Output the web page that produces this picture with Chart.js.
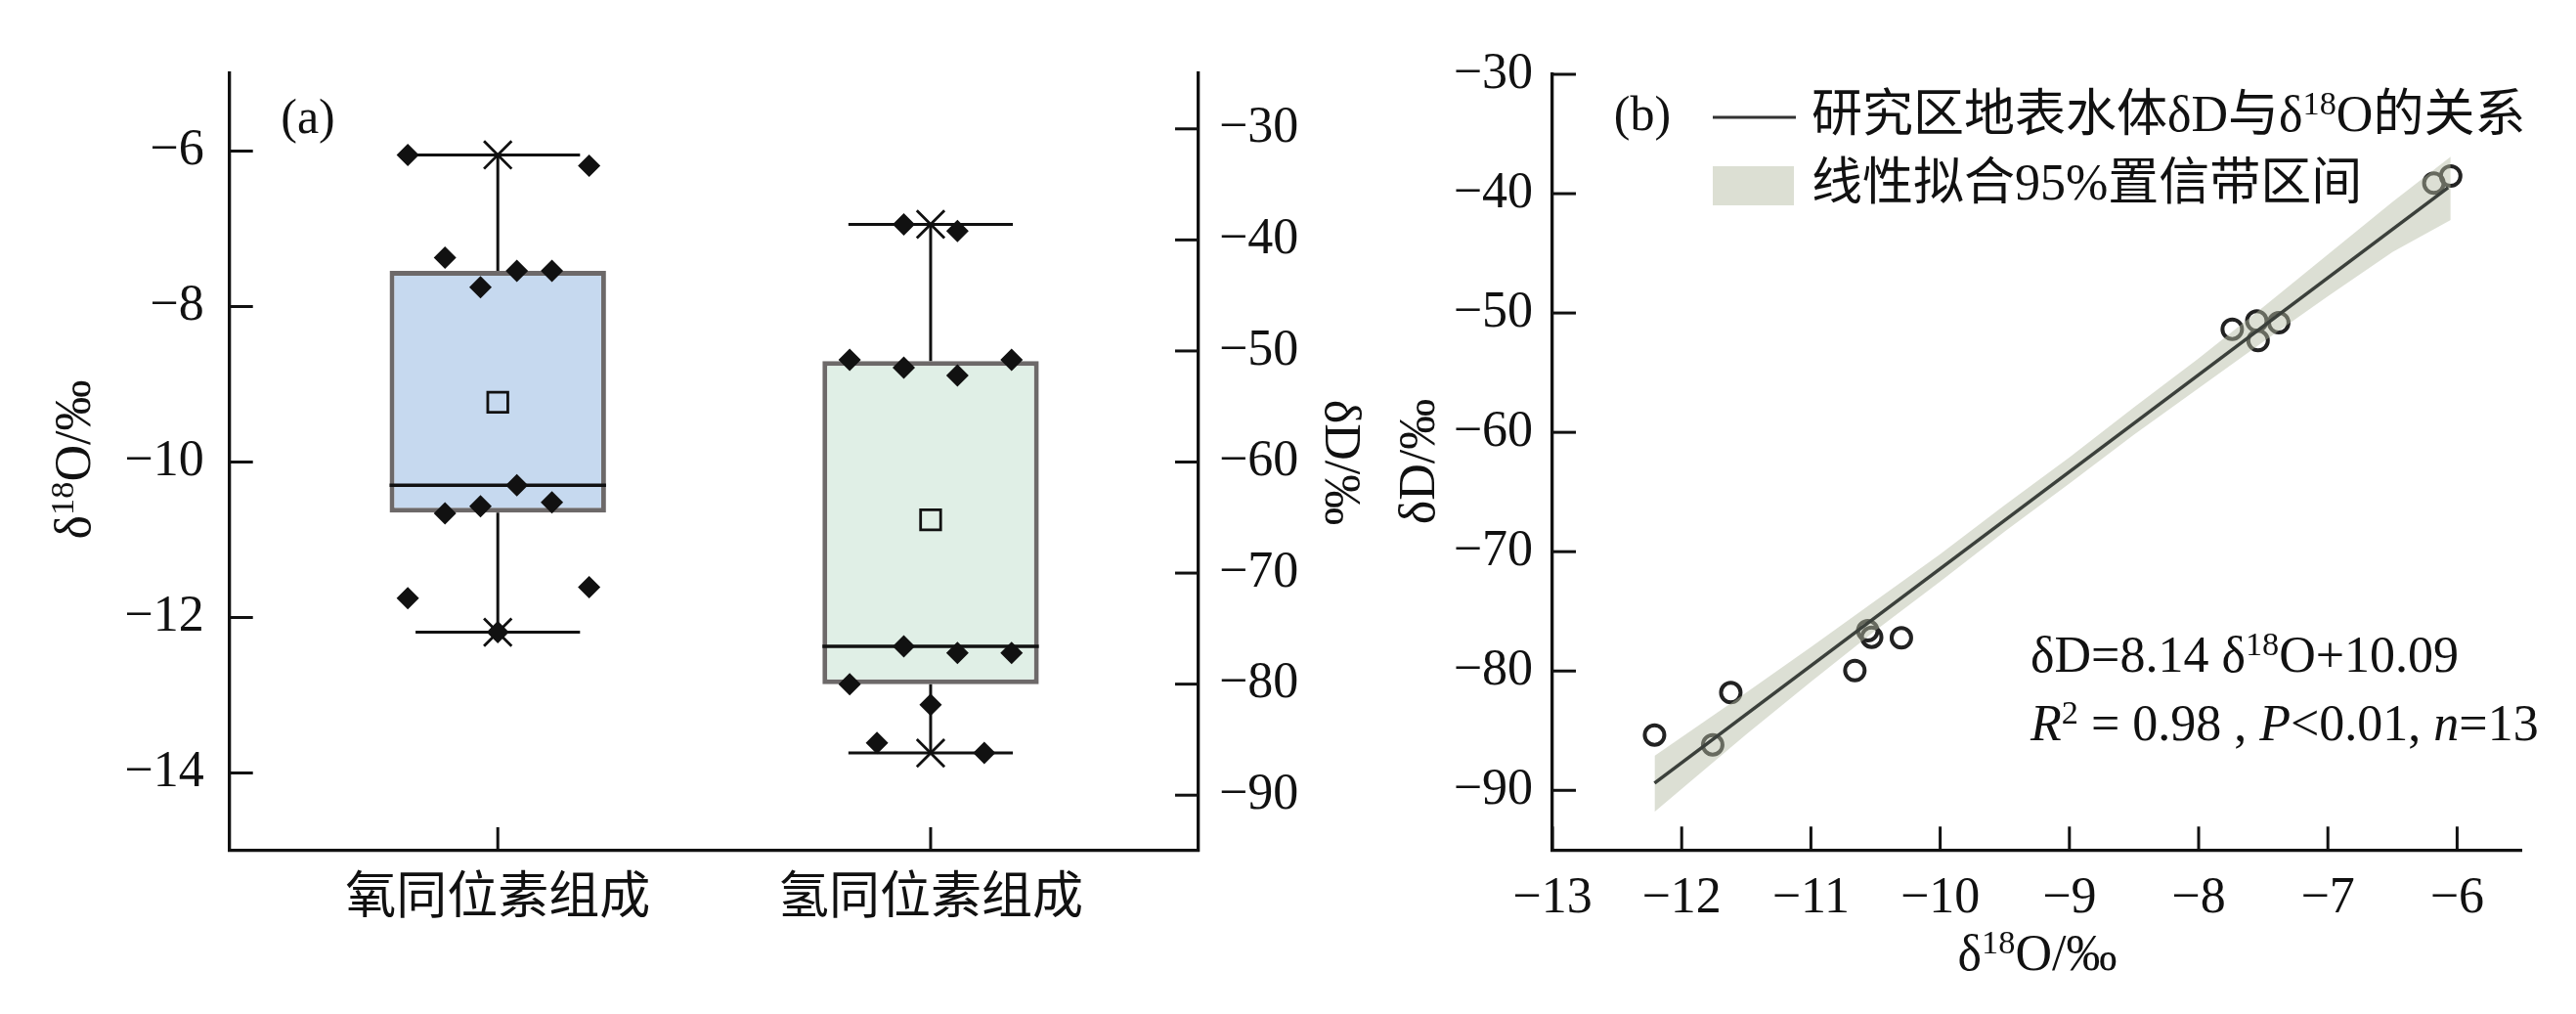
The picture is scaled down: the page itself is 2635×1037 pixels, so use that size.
<!DOCTYPE html>
<html><head><meta charset="utf-8">
<script src="https://cdn.jsdelivr.net/npm/chart.js@4.4.1/dist/chart.umd.min.js"></script>
<style>
html,body{margin:0;padding:0;background:#fff;}
body{width:2635px;height:1037px;position:relative;overflow:hidden;}
canvas{position:absolute;top:0;}
#ca{left:0;}
#cb{left:1410px;}
</style></head><body>
<canvas id="ca" width="1420" height="1037"></canvas>
<canvas id="cb" width="1225" height="1037"></canvas>
<script>
// ---------------- data: panel (a) ----------------
const categories = ['氧同位素组成', '氢同位素组成'];
const oxygenValues   = [-6.05, -6.19, -7.37, -7.54, -7.54, -7.75, -10.30, -10.66, -10.57, -10.52, -11.75, -11.61, -12.19];
const oxygenJitter   = [-0.208, 0.211, -0.122, 0.044, 0.125, -0.040, 0.044, -0.122, -0.040, 0.125, -0.208, 0.211, 0];
const hydrogenValues = [-38.6, -39.2, -50.8, -51.5, -52.2, -50.8, -76.6, -77.2, -77.2, -80.0, -81.85, -85.3, -86.2];
const hydrogenJitter = [-0.062, 0.062, -0.187, -0.062, 0.062, 0.187, -0.062, 0.062, 0.187, -0.187, 0, -0.124, 0.124];
const boxQ1      = [-10.65, -80.0];
const boxQ3      = [-7.54, -50.9];
const boxMedian  = [-10.30, -76.6];
const boxMean    = [-9.23, -65.2];
const whiskerMin = [-12.19, -86.2];
const whiskerMax = [-6.05, -38.6];
const leftTicks  = [-14, -12, -10, -8, -6];
const rightTicks = [-90, -80, -70, -60, -50, -40, -30];

// ---------------- data: panel (b) ----------------
const scatterO18 = [-12.21, -11.76, -11.62, -10.66, -10.56, -10.53, -10.30, -7.74, -7.55, -7.54, -7.38, -6.18, -6.05];
const scatterDD  = [-85.36, -86.18, -81.81, -79.96, -76.62, -77.17, -77.22, -51.36, -50.67, -52.31, -50.81, -39.12, -38.52];
const fitX = [-12.21, -6.07];
const fitY = [-89.4, -39.5];
const bandX     = [-12.21, -11.5, -11.0, -10.5, -10.0, -9.5, -9.0, -8.5, -8.0, -7.5, -7.0, -6.5, -6.05];
const bandUpper = [-87.1, -81.8, -78.0, -74.1, -70.2, -66.1, -62.1, -57.9, -53.8, -49.5, -45.1, -40.7, -36.9];
const bandLower = [-91.8, -85.3, -80.9, -76.6, -72.5, -68.3, -64.3, -60.2, -56.3, -52.4, -48.6, -44.9, -42.2];
const bXTicks = [-13, -12, -11, -10, -9, -8, -7, -6];
const bYTicks = [-90, -80, -70, -60, -50, -40, -30];

// ---------------- styling helpers ----------------
const FONT = '"Liberation Serif", "Noto Sans CJK SC", serif';
const INK = '#111';
Chart.defaults.font.family = FONT;
Chart.defaults.font.size = 52;
Chart.defaults.color = INK;

function fmt(v) { return v < 0 ? '\u2212' + Math.abs(v) : String(v); }
function fixed(list) { return s => { s.ticks = list.map(v => ({ value: v })); }; }

function fontOf(p, fs) {
  const size = p.sup ? fs * 0.66 : fs;
  return (p.it ? 'italic ' : '') + size + 'px ' + FONT;
}
function drawRich(ctx, parts, x, y, fs, align, rot) {
  ctx.save();
  ctx.translate(x, y);
  if (rot) ctx.rotate(rot);
  let w = 0;
  for (const p of parts) { ctx.font = fontOf(p, fs); w += ctx.measureText(p.t).width; }
  let cx = align === 'center' ? -w / 2 : 0;
  ctx.textBaseline = 'middle';
  ctx.textAlign = 'left';
  ctx.fillStyle = INK;
  for (const p of parts) {
    ctx.font = fontOf(p, fs);
    ctx.fillText(p.t, cx, p.sup ? -fs * 0.24 : 0);
    cx += ctx.measureText(p.t).width;
  }
  ctx.restore();
}

const TICK_LEN = 24;
const inTicks = {
  id: 'inTicks',
  afterDatasetsDraw(chart) {
    const ctx = chart.ctx, a = chart.chartArea;
    ctx.save();
    ctx.strokeStyle = INK;
    ctx.lineWidth = 3;
    for (const id of Object.keys(chart.scales)) {
      const s = chart.scales[id];
      for (const t of s.ticks) {
        const p = s.getPixelForValue(t.value);
        ctx.beginPath();
        if (s.position === 'left') { ctx.moveTo(a.left, p); ctx.lineTo(a.left + TICK_LEN, p); }
        else if (s.position === 'right') { ctx.moveTo(a.right, p); ctx.lineTo(a.right - TICK_LEN, p); }
        else { ctx.moveTo(p, a.bottom); ctx.lineTo(p, a.bottom - TICK_LEN); }
        ctx.stroke();
      }
    }
    ctx.restore();
  }
};

function axisBase() {
  return {
    offset: false,
    grid: { display: false, drawTicks: false, offset: false },
    border: { display: true, width: 3.3, color: INK },
  };
}

// ---------------- panel (a) ----------------
const HALF = 0.25, CAP = 0.19;
const boxFill = ['#c6d9ef', '#e0efe6'];
const axisIds = ['y', 'y2'];
const seriesA = [
  { vals: oxygenValues, jit: oxygenJitter },
  { vals: hydrogenValues, jit: hydrogenJitter }
];

const dsA = [];
seriesA.forEach((s, i) => dsA.push({
  type: 'scatter', yAxisID: axisIds[i],
  data: s.vals.map((v, k) => ({ x: i + s.jit[k], y: v })),
  pointStyle: 'rectRot', pointRadius: 11.5, pointBackgroundColor: INK, pointBorderWidth: 0
}));
categories.forEach((c, i) => dsA.push({
  type: 'scatter', yAxisID: axisIds[i],
  data: [{ x: i, y: whiskerMax[i] }, { x: i, y: whiskerMin[i] }],
  pointStyle: 'crossRot', pointRadius: 20, pointBorderColor: INK, pointBorderWidth: 2.8
}));
categories.forEach((c, i) => dsA.push({
  type: 'scatter', yAxisID: axisIds[i],
  data: [{ x: i, y: boxMean[i] }],
  pointStyle: 'rect', pointRadius: 14.5, pointBorderColor: INK, pointBorderWidth: 2.8,
  pointBackgroundColor: 'rgba(0,0,0,0)'
}));
categories.forEach((c, i) => dsA.push({
  type: 'line', yAxisID: axisIds[i],
  data: [{ x: i - HALF, y: boxMedian[i] }, { x: i + HALF, y: boxMedian[i] }],
  borderColor: INK, borderWidth: 3.5, pointRadius: 0, fill: false
}));
categories.forEach((c, i) => dsA.push({
  type: 'line', yAxisID: axisIds[i],
  data: [
    { x: i, y: boxQ3[i] }, { x: i, y: whiskerMax[i] }, { x: i, y: null },
    { x: i, y: boxQ1[i] }, { x: i, y: whiskerMin[i] }, { x: i, y: null },
    { x: i - CAP, y: whiskerMax[i] }, { x: i + CAP, y: whiskerMax[i] }, { x: i, y: null },
    { x: i - CAP, y: whiskerMin[i] }, { x: i + CAP, y: whiskerMin[i] }
  ],
  borderColor: INK, borderWidth: 3, pointRadius: 0, fill: false, spanGaps: false
}));
categories.forEach((c, i) => dsA.push({
  type: 'bar', yAxisID: axisIds[i],
  data: [{ x: i, y: [boxQ1[i], boxQ3[i]] }],
  backgroundColor: boxFill[i], borderColor: '#6d6969', borderWidth: 5, borderSkipped: false,
  grouped: false, categoryPercentage: 1, barPercentage: 0.5
}));

const textA = {
  id: 'textA',
  afterDraw(chart) {
    const ctx = chart.ctx;
    drawRich(ctx, [{ t: '(a)' }], 315, 123, 50, 'center');
    drawRich(ctx, [{ t: 'δ' }, { t: '18', sup: true }, { t: 'O/‰' }], 78, 470, 52, 'center', -Math.PI / 2);
    drawRich(ctx, [{ t: 'δD/‰' }], 1370, 473, 52, 'center', Math.PI / 2);
  }
};

new Chart(document.getElementById('ca'), {
  type: 'scatter',
  data: { datasets: dsA },
  options: {
    responsive: false, animation: false, devicePixelRatio: 1, events: [],
    layout: { padding: { top: 75, left: 0, right: 0, bottom: 0 } },
    plugins: { legend: { display: false }, tooltip: { enabled: false } },
    scales: {
      x: Object.assign(axisBase(), {
        type: 'linear', position: 'bottom', min: -0.62, max: 1.619,
        afterBuildTicks: s => { s.ticks = categories.map((c, i) => ({ value: i })); },
        afterFit: s => { s.height = 167; },
        ticks: { padding: 19, autoSkip: false, maxRotation: 0, callback: v => categories[v] }
      }),
      y: Object.assign(axisBase(), {
        type: 'linear', position: 'left', min: -15, max: -5,
        afterBuildTicks: fixed(leftTicks),
        afterFit: s => { s.width = 234.7; },
        ticks: { padding: 26, callback: fmt }
      }),
      y2: Object.assign(axisBase(), {
        type: 'linear', position: 'right', min: -95, max: -25,
        afterBuildTicks: fixed(rightTicks),
        afterFit: s => { s.width = 194; },
        ticks: { padding: 21, callback: fmt }
      })
    }
  },
  plugins: [inTicks, textA]
});

// ---------------- panel (b) ----------------
const BAND_COLOR = 'rgba(181,187,164,0.47)';
const dsB = [
  {
    type: 'line', data: fitX.map((x, k) => ({ x, y: fitY[k] })),
    borderColor: '#3b403b', borderWidth: 3.5, pointRadius: 0, fill: false
  },
  {
    type: 'line', data: bandX.map((x, k) => ({ x, y: bandUpper[k] })),
    borderWidth: 0, borderColor: 'rgba(0,0,0,0)', pointRadius: 0, fill: '+1', backgroundColor: BAND_COLOR
  },
  {
    type: 'line', data: bandX.map((x, k) => ({ x, y: bandLower[k] })),
    borderWidth: 0, borderColor: 'rgba(0,0,0,0)', pointRadius: 0, fill: false
  },
  {
    type: 'scatter', data: scatterO18.map((x, k) => ({ x, y: scatterDD[k] })),
    pointStyle: 'circle', pointRadius: 10, pointBorderWidth: 4, pointBorderColor: '#222',
    pointBackgroundColor: 'rgba(0,0,0,0)'
  }
];

const textB = {
  id: 'textB',
  afterDraw(chart) {
    const ctx = chart.ctx;
    drawRich(ctx, [{ t: '(b)' }], 270, 120, 50, 'center');
    // legend
    ctx.save();
    ctx.strokeStyle = '#333'; ctx.lineWidth = 3;
    ctx.beginPath(); ctx.moveTo(342, 120); ctx.lineTo(427, 120); ctx.stroke();
    ctx.fillStyle = '#dcdfd3';
    ctx.fillRect(342, 170, 83, 40);
    ctx.restore();
    drawRich(ctx, [{ t: '研究区地表水体δD与δ' }, { t: '18', sup: true }, { t: 'O的关系' }], 443, 120, 52, 'left');
    drawRich(ctx, [{ t: '线性拟合95%置信带区间' }], 443, 190, 52, 'left');
    // equation
    drawRich(ctx, [{ t: 'δD=8.14 δ' }, { t: '18', sup: true }, { t: 'O+10.09' }], 667, 673, 52, 'left');
    drawRich(ctx, [{ t: 'R', it: true }, { t: '2', sup: true }, { t: ' = 0.98 , ' }, { t: 'P', it: true },
      { t: '<0.01, ' }, { t: 'n', it: true }, { t: '=13' }], 667, 743, 52, 'left');
    // axis titles
    drawRich(ctx, [{ t: 'δ' }, { t: '18', sup: true }, { t: 'O/‰' }], 674, 978, 52, 'center');
    drawRich(ctx, [{ t: 'δD/‰' }], 43, 472, 52, 'center', -Math.PI / 2);
  }
};

new Chart(document.getElementById('cb'), {
  type: 'scatter',
  data: { datasets: dsB },
  options: {
    responsive: false, animation: false, devicePixelRatio: 1, events: [],
    layout: { padding: { top: 76, left: 0, right: 55.5, bottom: 0 } },
    plugins: { legend: { display: false }, tooltip: { enabled: false } },
    scales: {
      x: Object.assign(axisBase(), {
        type: 'linear', position: 'bottom', min: -13, max: -5.5,
        afterBuildTicks: fixed(bXTicks),
        afterFit: s => { s.height = 167.7; },
        ticks: { padding: 19, autoSkip: false, maxRotation: 0, callback: fmt }
      }),
      y: Object.assign(axisBase(), {
        type: 'linear', position: 'left', min: -95, max: -30,
        afterBuildTicks: fixed(bYTicks),
        afterFit: s => { s.width = 178; },
        ticks: { padding: 20, callback: fmt }
      })
    }
  },
  plugins: [inTicks, textB]
});
</script>
</body></html>
